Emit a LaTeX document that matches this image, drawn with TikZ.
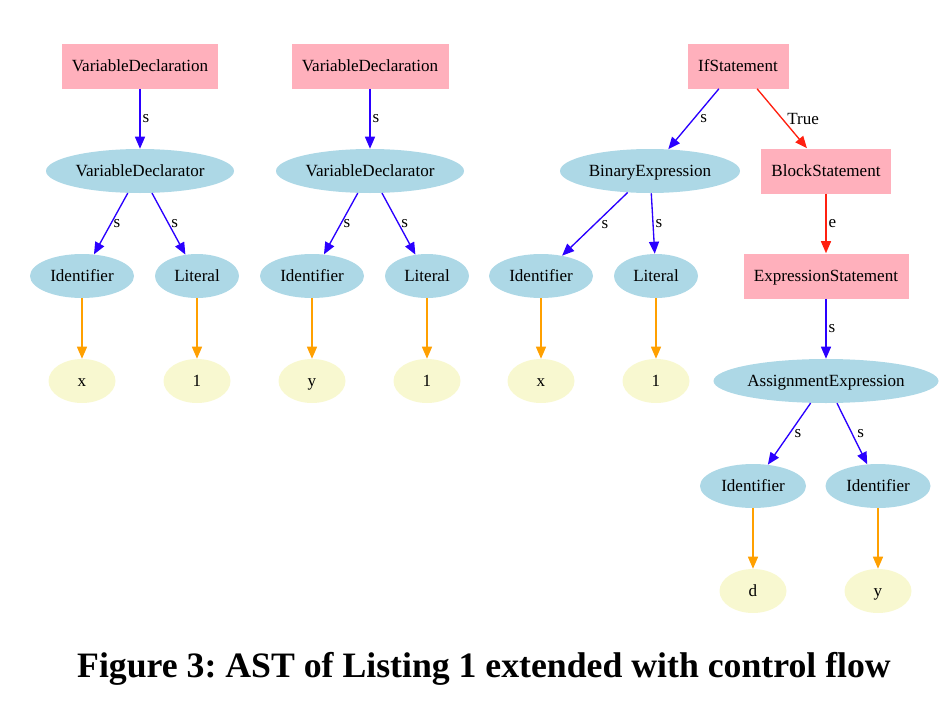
\documentclass[tikz,border=0pt]{standalone}
\usepackage{fontspec}
\setmainfont{Liberation Serif}
\usetikzlibrary{arrows.meta}
\newcommand\pxu{0.75pt}
\definecolor{rectpink}{HTML}{FFB0BC}
\definecolor{ellblue}{HTML}{ADD8E6}
\definecolor{ellyellow}{HTML}{F8F8D0}
\definecolor{edgeblue}{HTML}{2A00FF}
\definecolor{edgeorange}{HTML}{FFA000}
\definecolor{edgered}{HTML}{FF2010}
\tikzset{
  every node/.style={font=\fontsize{12.8pt}{14pt}\selectfont},
  shapenode/.style={inner sep=0pt, text height=0.84em, text depth=0pt},
  rectnode/.style={shapenode, rectangle, fill=rectpink, minimum height=45*\pxu},
  bluenode/.style={shapenode, ellipse, fill=ellblue, minimum height=44*\pxu},
  valnode/.style={shapenode, ellipse, fill=ellyellow, minimum width=67*\pxu, minimum height=44*\pxu},
  edge/.style={line width=1pt, -{Triangle[length=12*\pxu,width=10*\pxu]}},
  sedge/.style={edge, draw=edgeblue, fill=edgeblue},
  oedge/.style={edge, draw=edgeorange, fill=edgeorange},
  redge/.style={edge, draw=edgered, fill=edgered},
  lab/.style={anchor=west, inner sep=1.5pt, font=\fontsize{12.8pt}{14pt}\selectfont},
}
\usetikzlibrary{shapes.geometric}
\begin{document}
\begin{tikzpicture}[x=0.75pt,y=-0.75pt]
\useasboundingbox (0,0) rectangle (940,714);
% tree 1
\node[rectnode, minimum width=156*\pxu] (vd1) at (140,66) {VariableDeclaration};
\node[bluenode, minimum width=188*\pxu] (vr1) at (140,171) {VariableDeclarator};
\node[bluenode, minimum width=104*\pxu] (id1) at (82,276) {Identifier};
\node[bluenode, minimum width=84*\pxu] (li1) at (197,276) {Literal};
\node[valnode] (v1) at (82,381) {x};
\node[valnode] (v2) at (197,381) {1};
% tree 2
\node[rectnode, minimum width=157*\pxu] (vd2) at (370,66) {VariableDeclaration};
\node[bluenode, minimum width=188*\pxu] (vr2) at (370,171) {VariableDeclarator};
\node[bluenode, minimum width=104*\pxu] (id2) at (312,276) {Identifier};
\node[bluenode, minimum width=84*\pxu] (li2) at (427,276) {Literal};
\node[valnode] (v3) at (312,381) {y};
\node[valnode] (v4) at (427,381) {1};
% tree 3
\node[rectnode, minimum width=101*\pxu] (if) at (738,66) {IfStatement};
\node[bluenode, minimum width=180*\pxu] (be) at (650,171) {BinaryExpression};
\node[rectnode, minimum width=130*\pxu] (bs) at (826,171) {BlockStatement};
\node[bluenode, minimum width=104*\pxu] (id3) at (541,276) {Identifier};
\node[bluenode, minimum width=84*\pxu] (li3) at (656,276) {Literal};
\node[valnode] (v5) at (541,381) {x};
\node[valnode] (v6) at (656,381) {1};
\node[rectnode, minimum width=165*\pxu] (es) at (826,276) {ExpressionStatement};
\node[bluenode, minimum width=225*\pxu] (ae) at (826,381) {AssignmentExpression};
\node[bluenode, minimum width=106*\pxu] (id4) at (753,486) {Identifier};
\node[bluenode, minimum width=105*\pxu] (id5) at (878,486) {Identifier};
\node[valnode] (v7) at (753,591) {d};
\node[valnode] (v8) at (878,591) {y};
% edges tree 1
\draw[sedge] (vd1) -- node[lab] {s} (vr1);
\draw[sedge] (vr1) -- node[lab] {s} (id1);
\draw[sedge] (vr1) -- node[lab] {s} (li1);
\draw[oedge] (id1) -- (v1);
\draw[oedge] (li1) -- (v2);
% edges tree 2
\draw[sedge] (vd2) -- node[lab] {s} (vr2);
\draw[sedge] (vr2) -- node[lab] {s} (id2);
\draw[sedge] (vr2) -- node[lab] {s} (li2);
\draw[oedge] (id2) -- (v3);
\draw[oedge] (li2) -- (v4);
% edges tree 3
\draw[sedge] (if) -- node[lab, xshift=3pt] {s} (be);
\draw[redge] (if) -- node[lab, xshift=2pt] {True} (bs);
\draw[sedge] (be) -- node[lab, xshift=3pt] {s} (id3);
\draw[sedge] (be) -- node[lab] {s} (li3);
\draw[oedge] (id3) -- (v5);
\draw[oedge] (li3) -- (v6);
\draw[redge] (bs) -- node[lab] {e} (es);
\draw[sedge] (es) -- node[lab] {s} (ae);
\draw[sedge] (ae) -- node[lab, xshift=2pt] {s} (id4);
\draw[sedge] (ae) -- node[lab, xshift=2pt] {s} (id5);
\draw[oedge] (id4) -- (v7);
\draw[oedge] (id5) -- (v8);
% caption
\node[font=\fontsize{26.8pt}{30pt}\selectfont\bfseries\frenchspacing, anchor=base] (cap) at (484,677) {Figure 3: AST of Listing 1 extended with control flow};
\end{tikzpicture}
\end{document}
